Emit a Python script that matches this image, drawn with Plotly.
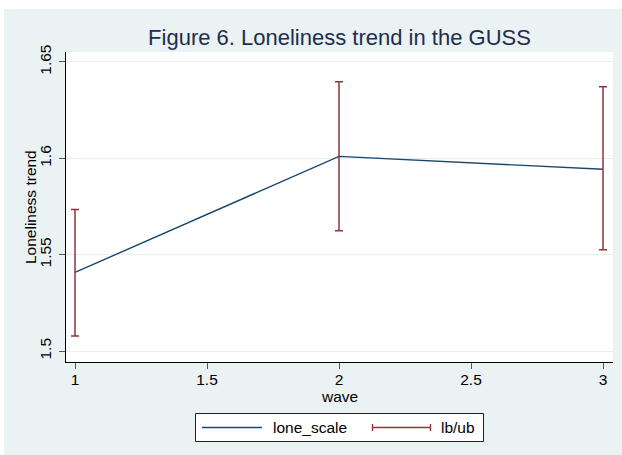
import plotly.graph_objects as go

# Loneliness scale by survey wave, with lower/upper bounds
wave = [1, 2, 3]
lone_scale = [1.5408, 1.6010, 1.5943]
lb = [1.5078, 1.5624, 1.5526]
ub = [1.5734, 1.6397, 1.6371]

y_ticks = [1.5, 1.55, 1.6, 1.65]
y_tick_text = ["1.5", "1.55", "1.6", "1.65"]
x_ticks = [1, 1.5, 2, 2.5, 3]
x_tick_text = ["1", "1.5", "2", "2.5", "3"]

W, H = 622, 455
ML, MR, MT, MB = 66, 9, 52, 93
PW, PH = W - ML - MR, H - MT - MB

BG = "#EAF2F3"
NAVY = "#1a476f"
MAROON = "#90353b"
FONT = "Liberation Sans, Arial, sans-serif"


def px_x(px):
    """Pixel column -> paper x."""
    return (px - ML) / PW


def px_y(py):
    """Pixel row -> paper y."""
    return (H - MB - py) / PH


fig = go.Figure()

fig.add_trace(go.Scatter(
    x=wave, y=lone_scale, mode="lines", name="lone_scale",
    line=dict(color=NAVY, width=1.4),
))

fig.add_trace(go.Scatter(
    x=wave, y=lone_scale, mode="markers", name="lb/ub",
    marker=dict(size=0.1, opacity=0),
    error_y=dict(
        type="data", symmetric=False,
        array=[u - m for u, m in zip(ub, lone_scale)],
        arrayminus=[m - l for m, l in zip(lone_scale, lb)],
        color=MAROON, thickness=1.5, width=4,
    ),
))

shapes = [
    # white edges around the graph region
    dict(type="rect", xref="paper", yref="paper", x0=-0.3, x1=1.2,
         y0=px_y(9), y1=px_y(-20), fillcolor="white", line_width=0, layer="below"),
    dict(type="rect", xref="paper", yref="paper", x0=px_x(-20), x1=px_x(4),
         y0=px_y(480), y1=px_y(-20), fillcolor="white", line_width=0, layer="below"),
    # legend frame
    dict(type="rect", xref="paper", yref="paper", x0=px_x(195.5), x1=px_x(483.5),
         y0=px_y(441.5), y1=px_y(413.5), fillcolor="white",
         line=dict(color="#222222", width=1)),
    # legend key: line
    dict(type="line", xref="paper", yref="paper", x0=px_x(202), x1=px_x(262),
         y0=px_y(427.5), y1=px_y(427.5), line=dict(color=NAVY, width=1.4)),
    # legend key: capped range
    dict(type="line", xref="paper", yref="paper", x0=px_x(372), x1=px_x(431),
         y0=px_y(427.5), y1=px_y(427.5), line=dict(color=MAROON, width=1.4)),
    dict(type="line", xref="paper", yref="paper", x0=px_x(372.5), x1=px_x(372.5),
         y0=px_y(424), y1=px_y(431), line=dict(color=MAROON, width=1.4)),
    dict(type="line", xref="paper", yref="paper", x0=px_x(430.5), x1=px_x(430.5),
         y0=px_y(424), y1=px_y(431), line=dict(color=MAROON, width=1.4)),
]

annotations = [
    dict(text="lone_scale", xref="paper", yref="paper", x=px_x(271), y=px_y(427.5),
         xanchor="left", yanchor="middle", showarrow=False,
         font=dict(family=FONT, size=15.5, color="black")),
    dict(text="lb/ub", xref="paper", yref="paper", x=px_x(439), y=px_y(427.5),
         xanchor="left", yanchor="middle", showarrow=False,
         font=dict(family=FONT, size=15.5, color="black")),
    # axis titles
    dict(text="wave", xref="paper", yref="paper", x=0.5, y=px_y(396),
         xanchor="center", yanchor="middle", showarrow=False,
         font=dict(family=FONT, size=15.5, color="black")),
    dict(text="Loneliness trend", xref="paper", yref="paper", x=px_x(30), y=px_y(207),
         xanchor="center", yanchor="middle", textangle=-90, showarrow=False,
         font=dict(family=FONT, size=15.5, color="black")),
]

fig.update_layout(
    width=W, height=H,
    margin=dict(l=ML, r=MR, t=MT, b=MB, pad=0),
    paper_bgcolor=BG, plot_bgcolor="white",
    showlegend=False,
    title=dict(text="Figure 6. Loneliness trend in the GUSS",
               x=0.5, xref="paper", xanchor="center",
               y=1 - 37 / H, yref="container", yanchor="middle",
               font=dict(family=FONT, size=22, color="#1E2D4F")),
    shapes=shapes, annotations=annotations,
    font=dict(family=FONT, size=15.5, color="black"),
)

fig.update_xaxes(
    range=[1 - 9 / 264, 3 + 10 / 264],
    tickvals=x_ticks, ticktext=x_tick_text,
    ticks="outside", ticklen=6, tickwidth=1, tickcolor="#555555",
    ticklabelstandoff=-3,
    showline=True, linecolor="black", linewidth=1,
    showgrid=False, zeroline=False,
    tickfont=dict(family=FONT, size=15.5, color="black"),
)

fig.update_yaxes(
    range=[1.5 - 11 / 96.7 * 0.05, 1.65 + 10 / 96.7 * 0.05],
    tickvals=y_ticks, ticktext=y_tick_text, tickangle=-90,
    ticks="outside", ticklen=6, tickwidth=1, tickcolor="#555555",
    ticklabelstandoff=2,
    showline=True, linecolor="black", linewidth=1,
    showgrid=True, gridcolor="#E6EEF0", gridwidth=1, zeroline=False,
    tickfont=dict(family=FONT, size=15.5, color="black"),
)

fig.write_html("out.html")
